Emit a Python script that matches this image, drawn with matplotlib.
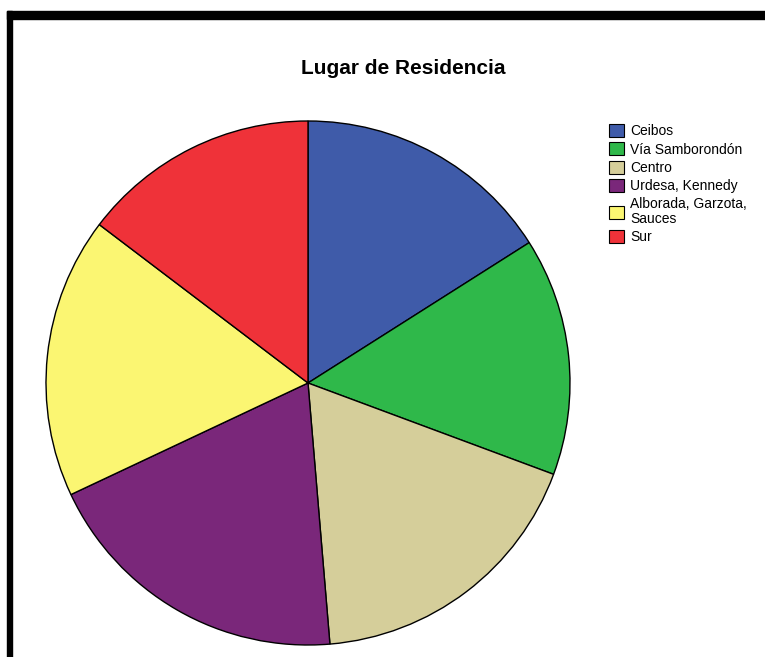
"""Pie chart: Lugar de Residencia (SPSS-style)."""

import matplotlib
matplotlib.use("Agg")
import matplotlib.pyplot as plt
from matplotlib.patches import Patch, Rectangle

plt.rcParams["font.family"] = ["Liberation Sans", "DejaVu Sans"]

CATEGORIES = ["Ceibos", "Vía Samborondón", "Centro", "Urdesa, Kennedy",
              "Alborada, Garzota,\nSauces", "Sur"]
COUNTS = [24, 22, 27, 29, 26, 22]
COLORS = ["#3F5BA9", "#2FB84A", "#D5CE9A", "#7A277A", "#FBF672", "#EF3239"]

W, H, DPI = 765, 657, 100


def main():
    fig = plt.figure(figsize=(W / DPI, H / DPI), dpi=DPI)

    # pie area: centre (308, 383), radius 262 px
    cx, cy, r = 308, 383, 262
    ax = fig.add_axes([(cx - r) / W, (H - cy - r) / H, 2 * r / W, 2 * r / H])
    ax.pie(COUNTS, colors=COLORS, startangle=90, counterclock=False,
           wedgeprops=dict(edgecolor="black", linewidth=1.0))
    ax.set_xlim(-1, 1)
    ax.set_ylim(-1, 1)
    ax.set_aspect("equal")
    ax.axis("off")

    fig.text(403 / W, 1 - 68 / H, "Lugar de Residencia", ha="center",
             va="center", fontsize=15, fontweight="bold")

    handles = [Patch(facecolor=c, edgecolor="black", linewidth=0.8)
               for c in COLORS]
    leg = fig.legend(handles, CATEGORIES, loc="upper left",
                     bbox_to_anchor=(609 / W, 1 - 124 / H), frameon=False,
                     fontsize=10, handlelength=1.05, handleheight=1.05,
                     handletextpad=0.45, labelspacing=0.3, borderaxespad=0,
                     borderpad=0)
    leg.get_texts()[4].set_linespacing(1.05)

    # black frame lines (top and left)
    fig.patches.append(Rectangle((7 / W, 1 - 19 / H), 1, 8 / H,
                                 transform=fig.transFigure, color="black"))
    fig.patches.append(Rectangle((7 / W, 0), 5 / W, 1 - 11 / H,
                                 transform=fig.transFigure, color="black"))

    fig.savefig("out.png", dpi=DPI)
    plt.close(fig)


if __name__ == "__main__":
    main()
